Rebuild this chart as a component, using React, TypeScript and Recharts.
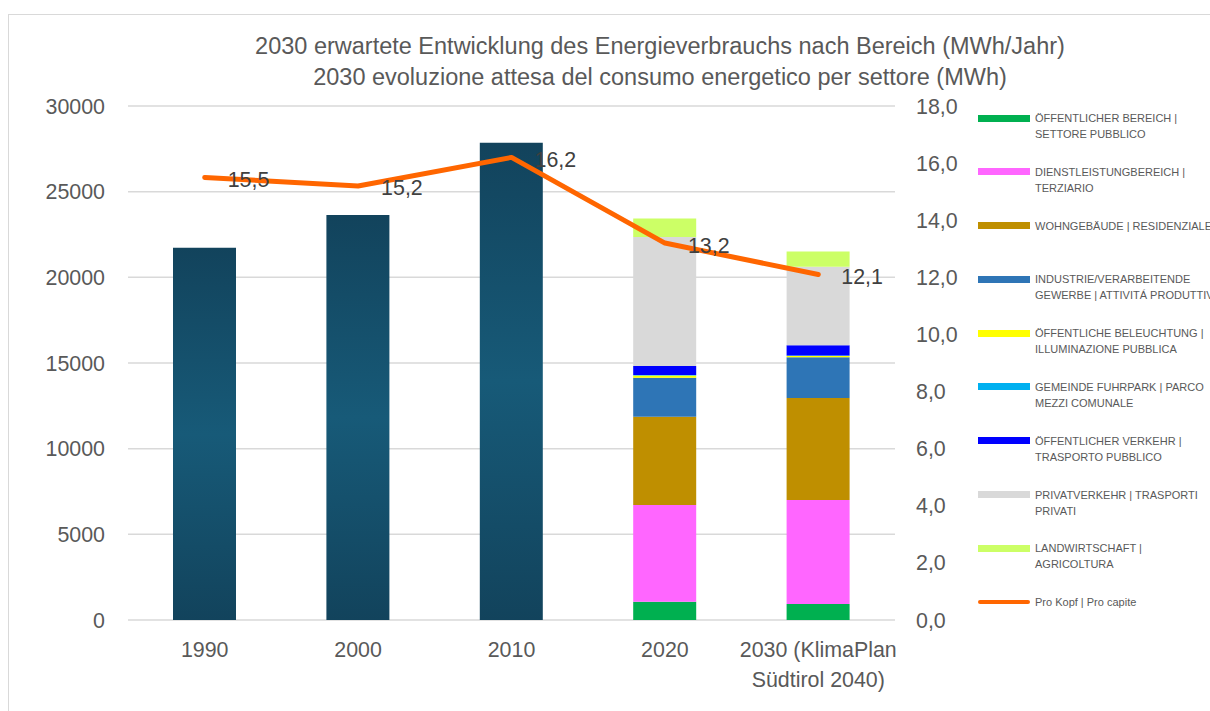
import { ComposedChart, Bar, Line, XAxis, YAxis, CartesianGrid, LabelList } from 'recharts';

// categories / values
const categories = ['1990', '2000', '2010', '2020', '2030 (KlimaPlan\nSüdtirol 2040)'];
const totals = [21720, 23640, 27850, null, null];
const oeffentlich = [null, null, null, 1070, 935];
const dienstleistung = [null, null, null, 5640, 6070];
const wohngebaeude = [null, null, null, 5160, 5955];
const industrie = [null, null, null, 2275, 2375];
const beleuchtung = [null, null, null, 120, 75];
const fuhrpark = [null, null, null, 30, 25];
const verkehr = [null, null, null, 525, 600];
const privat = [null, null, null, 7530, 4577];
const landwirtschaft = [null, null, null, 1090, 893];
const proKopf = [15.5, 15.2, 16.2, 13.2, 12.1];

const leftTicks = [0, 5000, 10000, 15000, 20000, 25000, 30000];
const rightTicks = [0, 2, 4, 6, 8, 10, 12, 14, 16, 18];

const sectors = [
  { key: 'oeffentlich', values: oeffentlich, color: '#00B050', label: 'ÖFFENTLICHER BEREICH |\nSETTORE PUBBLICO' },
  { key: 'dienstleistung', values: dienstleistung, color: '#FF66FF', label: 'DIENSTLEISTUNGBEREICH |\nTERZIARIO' },
  { key: 'wohngebaeude', values: wohngebaeude, color: '#BF8F00', label: 'WOHNGEBÄUDE | RESIDENZIALE' },
  { key: 'industrie', values: industrie, color: '#2E75B6', label: 'INDUSTRIE/VERARBEITENDE\nGEWERBE | ATTIVITÁ PRODUTTIVE' },
  { key: 'beleuchtung', values: beleuchtung, color: '#FFFF00', label: 'ÖFFENTLICHE BELEUCHTUNG |\nILLUMINAZIONE PUBBLICA' },
  { key: 'fuhrpark', values: fuhrpark, color: '#00B0F0', label: 'GEMEINDE FUHRPARK | PARCO\nMEZZI COMUNALE' },
  { key: 'verkehr', values: verkehr, color: '#0000FF', label: 'ÖFFENTLICHER VERKEHR |\nTRASPORTO PUBBLICO' },
  { key: 'privat', values: privat, color: '#D9D9D9', label: 'PRIVATVERKEHR | TRASPORTI\nPRIVATI' },
  { key: 'landwirtschaft', values: landwirtschaft, color: '#CCFF66', label: 'LANDWIRTSCHAFT |\nAGRICOLTURA' },
];

const data = categories.map((cat, i) => {
  const row: any = { cat, total: totals[i], proKopf: proKopf[i] };
  sectors.forEach(s => { row[s.key] = s.values[i]; });
  return row;
});

const FONT = '"Liberation Sans", Arial, sans-serif';
const fmt = (v: number) => v.toFixed(1).replace('.', ',');

const XTick = ({ x, y, payload }: any) => {
  const lines = String(payload.value).split('\n');
  return (
    <text x={x} y={y} textAnchor="middle" fill="#595959" fontSize={21.4} fontFamily={FONT}>
      {lines.map((l, i) => (
        <tspan key={i} x={x} dy={i === 0 ? 29 : 30}>{l}</tspan>
      ))}
    </text>
  );
};

const LineLabel = (props: any) => {
  const { x, y, value } = props;
  return (
    <text x={x + 23} y={y + 2} dy="0.35em" fill="#404040" fontSize={21.4} fontFamily={FONT}>{fmt(value)}</text>
  );
};

function LegendBox() {
  const items = [...sectors.map(s => ({ color: s.color, label: s.label, line: false })),
    { color: '#FF6600', label: 'Pro Kopf | Pro capite', line: true }];
  return (
    <div style={{ position: 'absolute', left: 978, top: 110, fontFamily: FONT, fontSize: 11, color: '#595959' }}>
      {items.map((it, i) => (
        <div key={i} style={{ height: 53.8, display: 'flex', alignItems: 'flex-start' }}>
          <div style={{ width: 52, height: it.line ? 4 : 7, marginTop: it.line ? 6 : 4.5, background: it.color, borderRadius: it.line ? 2 : 0, flex: 'none' }} />
          <div style={{ marginLeft: 5, lineHeight: '16px', whiteSpace: 'pre' }}>{it.label}</div>
        </div>
      ))}
    </div>
  );
}

export default function App() {
  return (
    <div style={{ position: 'absolute', left: 0, top: 0, width: 1210, height: 711, overflow: 'hidden', background: '#fff' }}>
      <div style={{ position: 'absolute', left: 8, top: 14, width: 1300, height: 800, border: '1px solid #d9d9d9' }} />
      <div style={{ position: 'absolute', left: 0, width: 1320, top: 31, textAlign: 'center', fontFamily: FONT, fontSize: 23.5, lineHeight: '31px', color: '#595959' }}>
        2030 erwartete Entwicklung des Energieverbrauchs nach Bereich (MWh/Jahr)<br />
        2030 evoluzione attesa del consumo energetico per settore (MWh)
      </div>
      <div style={{ position: 'absolute', left: 0, top: 0 }}>
        <ComposedChart width={960} height={711} data={data} margin={{ top: 106, right: 0, bottom: 31, left: 0 }}>
          <defs>
            <linearGradient id="totalGrad" x1="0" y1="0" x2="0" y2="1">
              <stop offset="0%" stopColor="#12435c" />
              <stop offset="50%" stopColor="#175a78" />
              <stop offset="100%" stopColor="#12435c" />
            </linearGradient>
          </defs>
          <CartesianGrid vertical={false} stroke="#d9d9d9" strokeWidth={1.5} yAxisId="left" />
          <XAxis dataKey="cat" axisLine={false} tickLine={false} height={60} interval={0} tick={<XTick />} />
          <YAxis yAxisId="left" orientation="left" width={128} domain={[0, 30000]} ticks={leftTicks}
            axisLine={false} tickLine={false} tickSize={0} tickMargin={23}
            tick={{ fill: '#595959', fontSize: 21.4, fontFamily: FONT }} />
          <YAxis yAxisId="right" orientation="right" width={65} domain={[0, 18]} ticks={rightTicks}
            axisLine={false} tickLine={false} tickSize={0} tickMargin={21} tickFormatter={fmt}
            tick={{ fill: '#595959', fontSize: 21.4, fontFamily: FONT }} />
          <Bar yAxisId="left" dataKey="total" stackId="a" barSize={63} fill="url(#totalGrad)" isAnimationActive={false} />
          {sectors.map(s => (
            <Bar key={s.key} yAxisId="left" dataKey={s.key} stackId="a" barSize={63} fill={s.color} isAnimationActive={false} />
          ))}
          <Line yAxisId="right" dataKey="proKopf" stroke="#FF6600" strokeWidth={5} strokeLinecap="round" strokeLinejoin="round"
            dot={false} activeDot={false} isAnimationActive={false}>
            <LabelList dataKey="proKopf" content={<LineLabel />} />
          </Line>
        </ComposedChart>
      </div>
      <LegendBox />
    </div>
  );
}
